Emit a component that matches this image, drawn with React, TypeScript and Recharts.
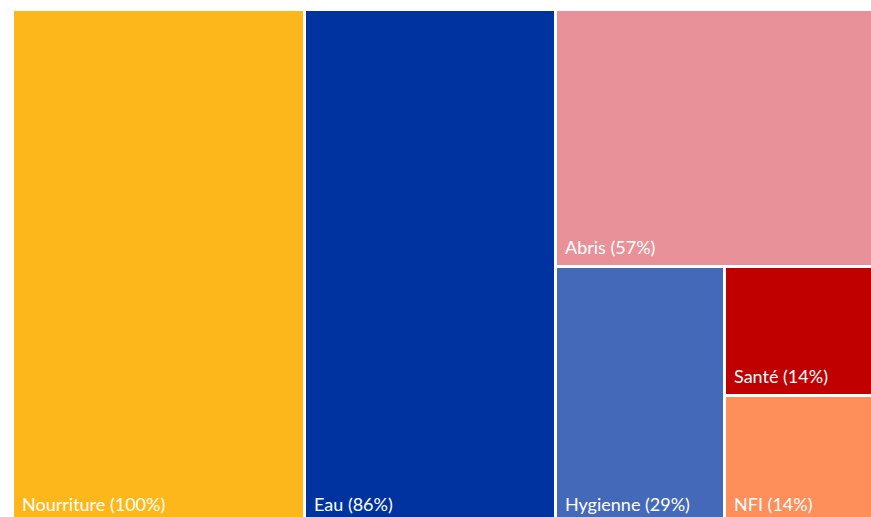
import React from 'react'
import { Treemap } from 'recharts'

// besoins prioritaires (% des répondants)
const categories = ['Nourriture', 'Eau', 'Abris', 'Hygienne', 'Santé', 'NFI']
const values = [100, 86, 57, 29, 14, 14]
const colors = ['#FDB71A', '#0033A0', '#E99198', '#4469B8', '#C00000', '#FF8F5A']

const data = categories.map((name, i) => ({ name, size: values[i], fill: colors[i] }))

const Cell = (props: any) => {
  const { x, y, width, height, depth, name, size, fill } = props
  if (depth === 0 || !name) return <g />
  return (
    <g>
      <rect x={x + 1} y={y + 1} width={width - 3} height={height - 3} fill={fill} stroke="none" />
      <text
        x={x + 9}
        y={y + height - 13}
        fill="#ffffff"
        stroke="none"
        fontSize={18}
        fontFamily="Lato, 'Noto Sans', sans-serif"
      >
        {`${name} (${size}%)`}
      </text>
    </g>
  )
}

export default function App() {
  return (
    <div style={{ position: 'fixed', left: 0, top: 0, width: 871, height: 517, overflow: 'hidden', background: '#fff' }}>
      <div style={{ position: 'absolute', left: 13, top: 10 }}>
        <Treemap
          width={875}
          height={514}
          data={data}
          dataKey="size"
          nameKey="name"
          aspectRatio={0.5}
          isAnimationActive={false}
          content={<Cell />}
        />
      </div>
    </div>
  )
}
